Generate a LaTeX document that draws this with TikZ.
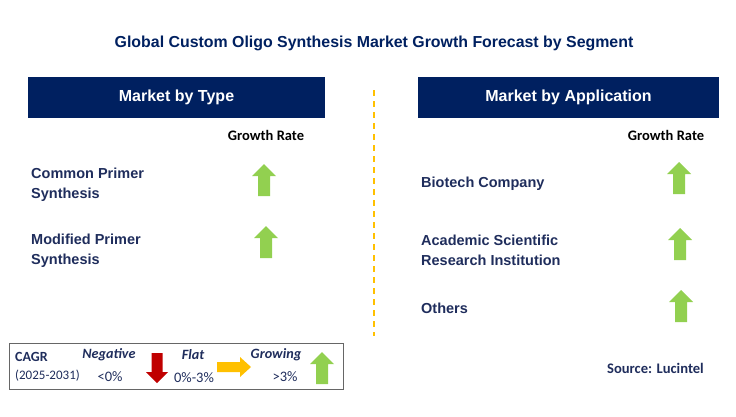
\documentclass[tikz,border=0pt]{standalone}
\usepackage{fontspec}
\setmainfont{Liberation Sans}
\newfontfamily\carlitofont{Carlito}
\definecolor{navy}{HTML}{002060}
\definecolor{txt}{HTML}{1F2D5C}
\definecolor{grn}{HTML}{92D050}
\definecolor{redd}{HTML}{C00000}
\definecolor{yel}{HTML}{FFC000}
\begin{document}
\begin{tikzpicture}[x=1pt,y=-1pt,
  hdr/.style={fill=navy,text=white,font=\bfseries\fontsize{16}{18}\selectfont,inner sep=0pt},
  lbl/.style={anchor=west,text=txt,font=\bfseries\fontsize{14.5}{20}\selectfont,align=left,inner sep=0pt},
  gr/.style={font=\carlitofont\bfseries\fontsize{14.5}{16}\selectfont,text=black,inner sep=0pt},
  leg/.style={font=\carlitofont\fontsize{13}{15}\selectfont,text=txt,inner sep=0pt},
  legv/.style={font=\carlitofont\fontsize{14.5}{16}\selectfont,text=txt,inner sep=0pt},
  legb/.style={font=\carlitofont\bfseries\itshape\fontsize{14.2}{16}\selectfont,text=txt,inner sep=0pt},
  uparrow/.pic={\fill[grn] (0,-16)--(12,-4)--(6,-4)--(6,16)--(-6,16)--(-6,-4)--(-12,-4)--cycle;},
  downarrow/.pic={\fill[redd] (0,15)--(11,4)--(5.5,4)--(5.5,-15)--(-5.5,-15)--(-5.5,4)--(-11,4)--cycle;},
  rightarrow/.pic={\fill[yel] (17,0)--(6,-10)--(6,-5)--(-17,-5)--(-17,5)--(6,5)--(6,10)--cycle;}
]
\useasboundingbox (0,0) rectangle (736,416);
\node[text=navy,font=\bfseries\fontsize{15.9}{18}\selectfont] (title) at (374,43) {Global Custom Oligo Synthesis Market Growth Forecast by Segment};

\node[hdr,minimum width=297pt,minimum height=41pt] (h1) at (176.5,97) {Market by Type};
\node[hdr,minimum width=301pt,minimum height=41pt] (h2) at (568.5,97) {Market by Application};

\node[gr] (g1) at (266,135) {Growth Rate};
\node[gr] (g2) at (666,135) {Growth Rate};

\node[lbl] (a1) at (31,185) {Common Primer\\Synthesis};
\node[lbl] (a2) at (31,251) {Modified Primer\\Synthesis};
\node[lbl] (b1) at (421,183.5) {Biotech Company};
\node[lbl] (b2) at (421,250.5) {Academic Scientific\\Research Institution};
\node[lbl] (b3) at (421,308) {Others};

\pic at (264,180) {uparrow};
\pic at (266,242) {uparrow};
\pic at (679,178) {uparrow};
\pic at (680,244) {uparrow};
\pic at (681,306) {uparrow};

\coordinate (d1) at (374,90);
\coordinate (d2) at (374,336);
\draw[yel,line width=1.6pt,dash pattern=on 6pt off 5pt] (d1)--(d2);

\node[draw=gray!80!black,line width=0.8pt,minimum width=334pt,minimum height=46pt,inner sep=0pt] (legend) at (176,366) {};
\node[leg,font=\carlitofont\bfseries\fontsize{14}{16}\selectfont,anchor=west] (cagr) at (15,357) {CAGR};
\node[leg,anchor=west] (yrs) at (15,376) {(2025-2031)};
\node[legb] (neg) at (109,355) {Negative};
\node[legv] (n0) at (110,377) {<0\%};
\pic at (157,368) {downarrow};
\node[legb] (flat) at (193,355) {Flat};
\node[legv] (f0) at (194,378) {0\%-3\%};
\pic at (234,367) {rightarrow};
\node[legb] (grow) at (276,355) {Growing};
\node[legv] (g0) at (285,377) {>3\%};
\pic at (322,368) {uparrow};

\node[font=\carlitofont\bfseries\fontsize{14.6}{16}\selectfont,text=txt,anchor=east,inner sep=0pt] (src) at (704,368) {Source: Lucintel};
\end{tikzpicture}
\end{document}
